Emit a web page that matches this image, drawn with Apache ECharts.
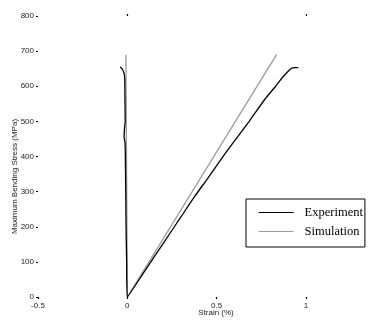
<!DOCTYPE html>
<html>
<head>
<meta charset="utf-8">
<script src="https://cdn.jsdelivr.net/npm/echarts@6/dist/echarts.min.js"></script>
<style>
  html, body { margin: 0; padding: 0; background: #fff; }
  #chart { width: 370px; height: 323px; }
</style>
</head>
<body>
<div id="chart"></div>
<script>
// Strain in %, stress in MPa
const xTicks = [-0.5, 0, 0.5, 1];
const xTopTicks = [0, 1];
const yTicks = [0, 100, 200, 300, 400, 500, 600, 700, 800];

// Experiment: transverse branch (top down to origin), then longitudinal branch
const expStrain = [-0.040, -0.030, -0.020, -0.015, -0.014, -0.013, -0.012, -0.016, -0.018, -0.013, -0.011, -0.009, -0.007, -0.004, 0,
                   0.10, 0.20, 0.30, 0.378, 0.45, 0.55, 0.62, 0.683, 0.77, 0.83, 0.868, 0.895, 0.915, 0.935, 0.957];
const expStress = [655, 650, 640, 625, 600, 550, 500, 480, 455, 440, 400, 300, 200, 100, 0,
                   76, 152, 228, 287, 338, 410, 458, 501, 563, 600, 625, 640, 650, 653, 653];

// Simulation: linear elastic, both branches
const simStrain = [-0.008, 0, 0.835];
const simStress = [690, 0, 690];

const pairs = (xs, ys) => xs.map((x, i) => [x, ys[i]]);

const chart = echarts.init(document.getElementById('chart'), null, { renderer: 'canvas' });

const tickLabel = { fontFamily: 'Liberation Sans', fontSize: 8, color: '#222' };
const dotTick = { show: true, length: 2, lineStyle: { color: '#000', width: 1.2 } };

chart.setOption({
  animation: false,
  backgroundColor: '#fff',
  grid: { left: 38, right: 64, top: 16, bottom: 26, containLabel: false, outerBoundsMode: 'none' },
  xAxis: [{
    type: 'value',
    min: xTicks[0], max: xTicks[xTicks.length - 1], interval: 0.5,
    name: 'Strain (%)',
    nameLocation: 'middle',
    nameMoveOverlap: false,
    nameGap: 12,
    nameTextStyle: { fontFamily: 'Liberation Sans', fontSize: 8, color: '#222', padding: [0, 0, 0, 88] },
    axisLine: { show: false, onZero: false },
    axisTick: dotTick,
    axisLabel: Object.assign({ margin: 5, formatter: v => String(v) }, tickLabel),
    splitLine: { show: false }
  }, {
    type: 'value',
    position: 'top',
    min: xTicks[0], max: xTicks[xTicks.length - 1], interval: 0.5,
    axisLine: { show: false, onZero: false },
    axisTick: Object.assign({ customValues: xTopTicks }, dotTick),
    axisLabel: { show: false },
    splitLine: { show: false }
  }],
  yAxis: {
    type: 'value',
    min: yTicks[0], max: yTicks[yTicks.length - 1], interval: 100,
    name: 'Maximum Bending Stress (MPa)',
    nameLocation: 'middle',
    nameMoveOverlap: false,
    nameRotate: 90,
    nameGap: 19,
    nameTextStyle: { fontFamily: 'Liberation Sans', fontSize: 8, color: '#222', padding: [0, 40, 0, 0] },
    axisLine: { show: false, onZero: false },
    axisTick: dotTick,
    axisLabel: Object.assign({ margin: 4 }, tickLabel),
    splitLine: { show: false }
  },
  legend: {
    orient: 'vertical',
    left: 246, top: 199,
    padding: [7, 2, 9, 12],
    itemGap: 6,
    itemWidth: 35,
    itemHeight: 14,
    borderColor: '#000',
    borderWidth: 1,
    borderRadius: 0,
    backgroundColor: '#fff',
    itemStyle: { opacity: 0 },
    lineStyle: { width: 1.2 },
    textStyle: { fontFamily: 'Liberation Serif', fontSize: 12.5, color: '#000', padding: [0, 0, 0, 6] },
    data: ['Experiment', 'Simulation']
  },
  series: [{
    name: 'Simulation',
    type: 'line',
    data: pairs(simStrain, simStress),
    symbol: 'none',
    showSymbol: false,
    lineStyle: { color: '#999', width: 1.3 },
    itemStyle: { color: '#999' },
    z: 2
  }, {
    name: 'Experiment',
    type: 'line',
    data: pairs(expStrain, expStress),
    symbol: 'none',
    showSymbol: false,
    smooth: 0.2,
    lineStyle: { color: '#000', width: 1.3 },
    itemStyle: { color: '#000' },
    z: 3
  }]
});
</script>
</body>
</html>
